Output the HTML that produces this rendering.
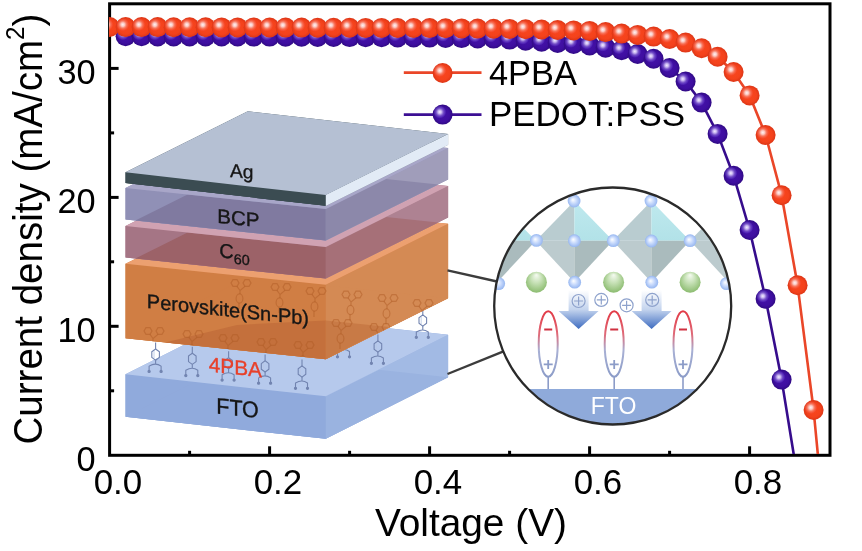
<!DOCTYPE html><html><head><meta charset="utf-8"><style>html,body{margin:0;padding:0;background:#fff;}svg{display:block;}text{font-family:"Liberation Sans",Arial,sans-serif;}</style></head><body>
<svg width="862" height="551" viewBox="0 0 862 551">
<defs>
<radialGradient id="go" cx="0.5" cy="0.5" r="0.5">
 <stop offset="0" stop-color="#f8461e"/><stop offset="0.7" stop-color="#f4421c"/><stop offset="1" stop-color="#dc3616"/>
</radialGradient>
<radialGradient id="ho" cx="0.5" cy="0.5" r="0.5">
 <stop offset="0" stop-color="#fff4f4" stop-opacity="1"/><stop offset="0.3" stop-color="#fcd0cc" stop-opacity="0.92"/><stop offset="0.62" stop-color="#f8907e" stop-opacity="0.55"/><stop offset="1" stop-color="#f66" stop-opacity="0"/>
</radialGradient>
<radialGradient id="gp" cx="0.5" cy="0.5" r="0.5">
 <stop offset="0" stop-color="#4412a8"/><stop offset="0.7" stop-color="#3e0ea0"/><stop offset="1" stop-color="#300a84"/>
</radialGradient>
<radialGradient id="hp" cx="0.5" cy="0.5" r="0.5">
 <stop offset="0" stop-color="#f6f0ff" stop-opacity="1"/><stop offset="0.3" stop-color="#d0c0f6" stop-opacity="0.9"/><stop offset="0.62" stop-color="#9274dc" stop-opacity="0.55"/><stop offset="1" stop-color="#86f" stop-opacity="0"/>
</radialGradient>
<g id="pba" fill="none" stroke="#7284b0" stroke-width="1.1" stroke-linejoin="round"><path d="M0,-5.6L3.8,-2.8L3.8,2.8L0,5.6L-3.8,2.8L-3.8,-2.8Z"/><path d="M0,-5.6V-12M0,5.6V9M-6.5,16.5V11.5Q0,7.5 5.5,11.5V16.5" /><circle cx="-6.5" cy="16.8" r="1.1" fill="#7284b0"/><circle cx="5.5" cy="16.8" r="1.1" fill="#7284b0"/><path d="M-1.6,-3.5L-1.6,3.5" stroke="#b8c6e4" stroke-width="0.8"/></g>
<g id="tpa" fill="none" stroke="#b05c26" stroke-width="1.15" stroke-opacity="0.5"><path d="M-10,0L-8,-3.4L-4,-3.4L-2,0L-4,3.4L-8,3.4Z"/><path d="M2,0L4,-3.4L8,-3.4L10,0L8,3.4L4,3.4Z"/><path d="M-4,3.4L-1,7.5M4,3.4L-1,7.5V11"/><ellipse cx="-1.5" cy="15.5" rx="3.4" ry="4.6"/><path d="M-2,20V26"/></g>
<g id="mo"><circle r="10" fill="url(#go)"/><circle cx="-2.8" cy="-2.5" r="6.5" fill="url(#ho)"/></g>
<g id="mp"><circle r="10" fill="url(#gp)"/><circle cx="-2.8" cy="-2.6" r="6.5" fill="url(#hp)"/></g>
<radialGradient id="gb" cx="0.5" cy="0.5" r="0.5" fx="0.4" fy="0.4">
 <stop offset="0" stop-color="#ffffff"/><stop offset="0.5" stop-color="#c8dafc"/><stop offset="1" stop-color="#96b6f0"/>
</radialGradient>
<radialGradient id="gg" cx="0.5" cy="0.45" r="0.55" fx="0.5" fy="0.15">
 <stop offset="0" stop-color="#f6fbf2"/><stop offset="0.45" stop-color="#c8e2b8"/><stop offset="1" stop-color="#8cbc70"/>
</radialGradient>
<linearGradient id="gcy" x1="0" y1="0" x2="0" y2="1">
 <stop offset="0" stop-color="#bfe9ee"/><stop offset="1" stop-color="#b2e2e8"/>
</linearGradient>
<linearGradient id="garr" x1="0" y1="0" x2="0" y2="1">
 <stop offset="0" stop-color="#ffffff"/><stop offset="0.5" stop-color="#c4d4ee"/><stop offset="1" stop-color="#3e6cc0"/>
</linearGradient>
<linearGradient id="gell" x1="0" y1="0" x2="0" y2="1">
 <stop offset="0" stop-color="#e23a46"/><stop offset="0.35" stop-color="#e06a78"/><stop offset="0.6" stop-color="#a8b0d4"/><stop offset="1" stop-color="#8c9cc8"/>
</linearGradient>
<clipPath id="pvclip"><polygon points="125.5,263.3 247.8,202.3 448.1,223.3 448.1,298.3 325.8,359.3 125.5,338.3"/></clipPath>
<clipPath id="plotclip"><rect x="109" y="5" width="720" height="449"/></clipPath>
<clipPath id="circclip"><circle cx="612.7" cy="306" r="118"/></clipPath>
</defs>
<rect width="862" height="551" fill="#fff"/>
<polygon points="125.5,374.3 247.8,312.8 448.1,334.8 448.1,377.3 325.8,438.8 125.5,416.8" fill="#90aadc" />
<polygon points="125.5,374.3 325.8,396.3 325.8,438.8 125.5,416.8" fill="#90aadc" />
<polygon points="325.8,396.3 448.1,334.8 448.1,377.3 325.8,438.8" fill="#a2bae4" />
<polygon points="125.5,416.8 194.9,381.9 325.8,396.3 325.8,438.8 325.8,438.8" fill="#90aadc" />
<polygon points="325.8,438.8 325.8,396.3 378.7,369.7 448.1,377.3 325.8,438.8" fill="#9ab3e0" />
<polygon points="125.5,374.3 247.8,312.8 448.1,334.8 325.8,396.3" fill="#b6c9ec" />
<use href="#pba" x="155.6" y="354.6"/>
<use href="#pba" x="192.3" y="358.8"/>
<use href="#pba" x="228.6" y="363.3"/>
<use href="#pba" x="265.1" y="366.4"/>
<use href="#pba" x="302.0" y="371.5"/>
<use href="#pba" x="344.0" y="340.0"/>
<use href="#pba" x="377.9" y="346.5"/>
<use href="#pba" x="422.8" y="320.5"/>
<polygon points="125.5,263.8 247.8,202.8 448.1,223.8 448.1,298.3 325.8,359.3 125.5,338.3" fill="#d07e44" />
<polygon points="125.5,263.8 325.8,284.8 325.8,359.3 125.5,338.3" fill="#d07e44" />
<polygon points="325.8,284.8 448.1,223.8 448.1,298.3 325.8,359.3" fill="#d48a54" />
<polygon points="125.5,338.3 247.8,277.3 325.8,285.5 325.8,359.3 325.8,359.3" fill="#d07e44" />
<polygon points="325.8,359.3 325.8,285.5 448.1,298.3 325.8,359.3" fill="#d48a54" />
<polygon points="125.5,263.8 247.8,202.8 448.1,223.8 325.8,284.8" fill="#eca070" />
<polygon points="165.0,342.4 237.0,325.0 325.8,320.4 325.8,359.3" fill="#c4703c" />
<polygon points="325.8,320.4 389.4,327.1 325.8,359.3" fill="#c87a46" />
<polygon points="125.5,226.0 247.8,165.0 448.1,186.0 448.1,217.5 325.8,278.5 125.5,257.5" fill="#a57585" />
<polygon points="125.5,226.0 325.8,247.0 325.8,278.5 125.5,257.5" fill="#a57585" />
<polygon points="325.8,247.0 448.1,186.0 448.1,217.5 325.8,278.5" fill="#ae8292" />
<polygon points="135.4,258.5 187.6,232.5 325.8,247.0 325.8,278.5" fill="#9c6268" />
<polygon points="325.8,278.5 325.8,247.0 386.0,217.0 438.2,222.5" fill="#a67078" />
<polygon points="125.5,226.0 247.8,165.0 448.1,186.0 325.8,247.0" fill="#d0a2b2" />
<polygon points="125.5,188.0 247.8,127.0 448.1,148.0 448.1,179.5 325.8,240.5 125.5,219.5" fill="#9090b6" />
<polygon points="125.5,188.0 325.8,209.0 325.8,240.5 125.5,219.5" fill="#9090b6" />
<polygon points="325.8,209.0 448.1,148.0 448.1,179.5 325.8,240.5" fill="#a09dba" />
<polygon points="135.4,220.5 187.6,194.5 325.8,209.0 325.8,240.5" fill="#807aa0" />
<polygon points="325.8,240.5 325.8,209.0 386.0,179.0 438.2,184.5" fill="#8c88aa" />
<polygon points="125.5,188.0 247.8,127.0 448.1,148.0 325.8,209.0" fill="#a8a6c8" />
<polygon points="125.5,172.3 247.8,111.3 448.1,134.1 448.1,144.8 325.8,205.8 125.5,183.0" fill="#3b4c52" />
<polygon points="125.5,172.3 325.8,195.1 325.8,205.8 125.5,183.0" fill="#3b4c52" />
<polygon points="325.8,195.1 448.1,134.1 448.1,144.8 325.8,205.8" fill="#e2ebf6" />
<polygon points="125.5,183.0 143.0,174.3 325.8,195.1 325.8,205.8 325.8,205.8" fill="#3b4c52" />
<polygon points="325.8,205.8 325.8,195.1 430.6,142.8 448.1,144.8 325.8,205.8" fill="#e2ebf6" />
<polygon points="125.5,172.3 247.8,111.3 448.1,134.1 325.8,195.1" fill="#b5c0d3" />
<g clip-path="url(#pvclip)">
<use href="#tpa" x="241.0" y="283.0"/>
<use href="#tpa" x="281.0" y="287.0"/>
<use href="#tpa" x="316.0" y="291.0"/>
<use href="#tpa" x="352.0" y="294.5"/>
<use href="#tpa" x="388.0" y="298.0"/>
<use href="#tpa" x="423.0" y="303.0"/>
<use href="#tpa" x="154.0" y="331.0"/>
<use href="#tpa" x="193.0" y="334.0"/>
<use href="#tpa" x="229.0" y="338.0"/>
<use href="#tpa" x="267.0" y="342.0"/>
<use href="#tpa" x="304.0" y="345.0"/>
<use href="#tpa" x="342.0" y="323.0"/>
<use href="#tpa" x="380.0" y="327.0"/>
</g>
<text transform="translate(230.0 177.0) skewY(4.50) scale(1.000 1)" font-size="19.2" fill="#161616" stroke="#161616" stroke-width="0.35">Ag</text>
<text transform="translate(217.2 222.8) skewY(6.00) scale(1.030 1)" font-size="20.0" fill="#161616" stroke="#161616" stroke-width="0.35">BCP</text>
<text transform="translate(219.3 257.2) skewY(6.00) scale(1.000 1)" font-size="20.0" fill="#161616" stroke="#161616" stroke-width="0.35">C<tspan font-size="14.4" dy="5.0">60</tspan></text>
<text transform="translate(146.8 308.0) skewY(6.00) scale(1.000 1)" font-size="20.0" fill="#161616" stroke="#161616" stroke-width="0.35">Perovskite(Sn-Pb)</text>
<text transform="translate(208.8 371.5) skewY(6.00) scale(1.000 1)" font-size="20.8" fill="#e8402a" stroke="#e8402a" stroke-width="0.35">4PBA</text>
<text transform="translate(216.3 413.6) skewY(6.00) scale(0.950 1)" font-size="22.6" fill="#161616" stroke="#161616" stroke-width="0.35">FTO</text>
<line x1="447.5" y1="270.3" x2="497" y2="281.5" stroke="#3c3c3c" stroke-width="2.4"/>
<line x1="447.5" y1="374" x2="503.5" y2="351.4" stroke="#3c3c3c" stroke-width="2.4"/>
<circle cx="612.7" cy="306" r="118.5" fill="#fff"/>
<g clip-path="url(#circclip)">
<polygon points="497.2,201.0 458.6,240.7 497.2,240.7" fill="#b9ccd0" />
<polygon points="497.2,201.0 497.2,240.7 535.8,240.7" fill="url(#gcy)" />
<polygon points="458.6,240.7 497.2,240.7 497.2,282.2" fill="#bccbce" />
<polygon points="497.2,240.7 535.8,240.7 497.2,282.2" fill="#aabbbd" />
<polygon points="574.4,201.0 535.8,240.7 574.4,240.7" fill="#b9ccd0" />
<polygon points="574.4,201.0 574.4,240.7 613.0,240.7" fill="url(#gcy)" />
<polygon points="535.8,240.7 574.4,240.7 574.4,282.2" fill="#bccbce" />
<polygon points="574.4,240.7 613.0,240.7 574.4,282.2" fill="#aabbbd" />
<polygon points="651.4,201.0 612.8,240.7 651.4,240.7" fill="#b9ccd0" />
<polygon points="651.4,201.0 651.4,240.7 690.0,240.7" fill="url(#gcy)" />
<polygon points="612.8,240.7 651.4,240.7 651.4,282.2" fill="#bccbce" />
<polygon points="651.4,240.7 690.0,240.7 651.4,282.2" fill="#aabbbd" />
<polygon points="728.6,201.0 690.0,240.7 728.6,240.7" fill="#b9ccd0" />
<polygon points="728.6,201.0 728.6,240.7 767.2,240.7" fill="url(#gcy)" />
<polygon points="690.0,240.7 728.6,240.7 728.6,282.2" fill="#bccbce" />
<polygon points="728.6,240.7 767.2,240.7 728.6,282.2" fill="#aabbbd" />
<circle cx="574.1" cy="201.0" r="6.4" fill="url(#gb)"/>
<circle cx="651.0" cy="201.0" r="6.4" fill="url(#gb)"/>
<circle cx="536.4" cy="240.4" r="6.4" fill="url(#gb)"/>
<circle cx="574.4" cy="240.7" r="6.4" fill="url(#gb)"/>
<circle cx="613.3" cy="240.7" r="6.4" fill="url(#gb)"/>
<circle cx="651.4" cy="241.0" r="6.4" fill="url(#gb)"/>
<circle cx="690.1" cy="240.7" r="6.4" fill="url(#gb)"/>
<circle cx="497.5" cy="240.7" r="6.4" fill="url(#gb)"/>
<circle cx="728.5" cy="240.7" r="6.4" fill="url(#gb)"/>
<circle cx="574.7" cy="282.2" r="6.4" fill="url(#gb)"/>
<circle cx="651.8" cy="282.2" r="6.4" fill="url(#gb)"/>
<circle cx="498.7" cy="283.6" r="6.4" fill="url(#gb)"/>
<circle cx="726.4" cy="283.6" r="6.4" fill="url(#gb)"/>
<circle cx="536.4" cy="282.2" r="10.5" fill="url(#gg)"/>
<circle cx="613.6" cy="282.2" r="10.5" fill="url(#gg)"/>
<circle cx="690.1" cy="282.2" r="10.5" fill="url(#gg)"/>
<polygon points="568.6,290 588.6,290 588.6,311 598.6,311 578.6,329 558.6,311 568.6,311 568.6,290" fill="url(#garr)"/>
<polygon points="641.6,290 661.6,290 661.6,311 671.6,311 651.6,329 631.6,311 641.6,311 641.6,290" fill="url(#garr)"/>
<circle cx="578.6" cy="301.0" r="6.5" fill="none" stroke="#8ea2cc" stroke-width="1.2"/>
<path d="M574.1 301.0h9M578.6 296.5v9" stroke="#8ea2cc" stroke-width="1.2"/>
<circle cx="601.3" cy="299.9" r="6.5" fill="none" stroke="#8ea2cc" stroke-width="1.2"/>
<path d="M596.8 299.9h9M601.3 295.4v9" stroke="#8ea2cc" stroke-width="1.2"/>
<circle cx="626.6" cy="305.3" r="6.5" fill="none" stroke="#8ea2cc" stroke-width="1.2"/>
<path d="M622.1 305.3h9M626.6 300.8v9" stroke="#8ea2cc" stroke-width="1.2"/>
<circle cx="652.2" cy="299.9" r="6.5" fill="none" stroke="#8ea2cc" stroke-width="1.2"/>
<path d="M647.7 299.9h9M652.2 295.4v9" stroke="#8ea2cc" stroke-width="1.2"/>
<ellipse cx="548.2" cy="344" rx="9.5" ry="32.7" fill="none" stroke="url(#gell)" stroke-width="2"/>
<line x1="548.2" y1="376.7" x2="548.2" y2="390" stroke="#8c9cc8" stroke-width="1.6"/>
<path d="M544.2 329.6h8" stroke="#d03040" stroke-width="2"/>
<path d="M543.7 364.4h9M548.2 359.9v9" stroke="#8c9cc8" stroke-width="1.8"/>
<ellipse cx="614.2" cy="344" rx="9.5" ry="32.7" fill="none" stroke="url(#gell)" stroke-width="2"/>
<line x1="614.2" y1="376.7" x2="614.2" y2="390" stroke="#8c9cc8" stroke-width="1.6"/>
<path d="M610.2 329.6h8" stroke="#d03040" stroke-width="2"/>
<path d="M609.7 364.4h9M614.2 359.9v9" stroke="#8c9cc8" stroke-width="1.8"/>
<ellipse cx="683.0" cy="344" rx="9.5" ry="32.7" fill="none" stroke="url(#gell)" stroke-width="2"/>
<line x1="683.0" y1="376.7" x2="683.0" y2="390" stroke="#8c9cc8" stroke-width="1.6"/>
<path d="M679.0 329.6h8" stroke="#d03040" stroke-width="2"/>
<path d="M678.5 364.4h9M683.0 359.9v9" stroke="#8c9cc8" stroke-width="1.8"/>
<rect x="480" y="389" width="270" height="50" fill="#8faada"/>
</g>
<text x="613.5" y="413.5" font-size="23" fill="#fff" text-anchor="middle">FTO</text>
<circle cx="612.7" cy="306" r="118.5" fill="none" stroke="#2a2a2a" stroke-width="2.3"/>
<g stroke="#000" stroke-width="3" fill="none">
<rect x="109.6" y="3.8" width="720.4" height="451.5"/>
<line x1="109.6" y1="326.3" x2="118.6" y2="326.3"/>
<line x1="109.6" y1="197.4" x2="118.6" y2="197.4"/>
<line x1="109.6" y1="68.4" x2="118.6" y2="68.4"/>
<line x1="109.6" y1="390.8" x2="114.1" y2="390.8"/>
<line x1="109.6" y1="261.8" x2="114.1" y2="261.8"/>
<line x1="109.6" y1="132.9" x2="114.1" y2="132.9"/>
<line x1="269.6" y1="455.3" x2="269.6" y2="446.3"/>
<line x1="429.6" y1="455.3" x2="429.6" y2="446.3"/>
<line x1="589.6" y1="455.3" x2="589.6" y2="446.3"/>
<line x1="749.6" y1="455.3" x2="749.6" y2="446.3"/>
<line x1="189.6" y1="455.3" x2="189.6" y2="450.8"/>
<line x1="349.6" y1="455.3" x2="349.6" y2="450.8"/>
<line x1="509.6" y1="455.3" x2="509.6" y2="450.8"/>
<line x1="669.6" y1="455.3" x2="669.6" y2="450.8"/>
</g>
<g clip-path="url(#plotclip)">
<polyline points="125.6,36.3 141.6,36.3 157.6,36.4 173.6,36.4 189.6,36.4 205.6,36.5 221.6,36.5 237.6,36.5 253.6,36.6 269.6,36.6 285.6,36.7 301.6,36.8 317.6,36.9 333.6,37.0 349.6,37.1 365.6,37.2 381.6,37.3 397.6,37.4 413.6,37.5 429.6,37.6 445.6,37.9 461.6,38.1 477.6,38.4 493.6,38.6 509.6,39.6 525.6,40.7 541.6,41.8 557.6,42.9 573.6,44.0 589.6,45.5 605.6,47.7 621.6,50.3 637.6,54.0 653.6,58.7 669.6,68.0 685.6,81.5 701.6,102.6 717.6,133.9 733.6,175.7 749.6,230.0 765.6,298.7 781.6,379.6 794.0,456.0" fill="none" stroke="#360c8c" stroke-width="2.6" stroke-linejoin="round"/>
<use href="#mp" x="125.6" y="36.3"/>
<use href="#mp" x="141.6" y="36.3"/>
<use href="#mp" x="157.6" y="36.4"/>
<use href="#mp" x="173.6" y="36.4"/>
<use href="#mp" x="189.6" y="36.4"/>
<use href="#mp" x="205.6" y="36.5"/>
<use href="#mp" x="221.6" y="36.5"/>
<use href="#mp" x="237.6" y="36.5"/>
<use href="#mp" x="253.6" y="36.6"/>
<use href="#mp" x="269.6" y="36.6"/>
<use href="#mp" x="285.6" y="36.7"/>
<use href="#mp" x="301.6" y="36.8"/>
<use href="#mp" x="317.6" y="36.9"/>
<use href="#mp" x="333.6" y="37.0"/>
<use href="#mp" x="349.6" y="37.1"/>
<use href="#mp" x="365.6" y="37.2"/>
<use href="#mp" x="381.6" y="37.3"/>
<use href="#mp" x="397.6" y="37.4"/>
<use href="#mp" x="413.6" y="37.5"/>
<use href="#mp" x="429.6" y="37.6"/>
<use href="#mp" x="445.6" y="37.9"/>
<use href="#mp" x="461.6" y="38.1"/>
<use href="#mp" x="477.6" y="38.4"/>
<use href="#mp" x="493.6" y="38.6"/>
<use href="#mp" x="509.6" y="39.6"/>
<use href="#mp" x="525.6" y="40.7"/>
<use href="#mp" x="541.6" y="41.8"/>
<use href="#mp" x="557.6" y="42.9"/>
<use href="#mp" x="573.6" y="44.0"/>
<use href="#mp" x="589.6" y="45.5"/>
<use href="#mp" x="605.6" y="47.7"/>
<use href="#mp" x="621.6" y="50.3"/>
<use href="#mp" x="637.6" y="54.0"/>
<use href="#mp" x="653.6" y="58.7"/>
<use href="#mp" x="669.6" y="68.0"/>
<use href="#mp" x="685.6" y="81.5"/>
<use href="#mp" x="701.6" y="102.6"/>
<use href="#mp" x="717.6" y="133.9"/>
<use href="#mp" x="733.6" y="175.7"/>
<use href="#mp" x="749.6" y="230.0"/>
<use href="#mp" x="765.6" y="298.7"/>
<use href="#mp" x="781.6" y="379.6"/>
<polyline points="109.6,27.0 125.6,27.1 141.6,27.1 157.6,27.1 173.6,27.2 189.6,27.2 205.6,27.3 221.6,27.4 237.6,27.4 253.6,27.4 269.6,27.5 285.6,27.6 301.6,27.6 317.6,27.7 333.6,27.7 349.6,27.8 365.6,27.9 381.6,27.9 397.6,28.0 413.6,28.0 429.6,28.1 445.6,28.3 461.6,28.4 477.6,28.6 493.6,28.7 509.6,28.9 525.6,29.2 541.6,29.5 557.6,30.0 573.6,30.4 589.6,30.9 605.6,32.1 621.6,33.6 637.6,34.9 653.6,36.6 669.6,39.0 685.6,42.6 701.6,48.2 717.6,56.8 733.6,72.0 749.6,95.4 765.6,135.0 781.6,195.2 797.6,285.3 813.6,410.0 818.0,456.0" fill="none" stroke="#ea4628" stroke-width="2.6" stroke-linejoin="round"/>
<use href="#mo" x="109.6" y="27.0"/>
<use href="#mo" x="125.6" y="27.1"/>
<use href="#mo" x="141.6" y="27.1"/>
<use href="#mo" x="157.6" y="27.1"/>
<use href="#mo" x="173.6" y="27.2"/>
<use href="#mo" x="189.6" y="27.2"/>
<use href="#mo" x="205.6" y="27.3"/>
<use href="#mo" x="221.6" y="27.4"/>
<use href="#mo" x="237.6" y="27.4"/>
<use href="#mo" x="253.6" y="27.4"/>
<use href="#mo" x="269.6" y="27.5"/>
<use href="#mo" x="285.6" y="27.6"/>
<use href="#mo" x="301.6" y="27.6"/>
<use href="#mo" x="317.6" y="27.7"/>
<use href="#mo" x="333.6" y="27.7"/>
<use href="#mo" x="349.6" y="27.8"/>
<use href="#mo" x="365.6" y="27.9"/>
<use href="#mo" x="381.6" y="27.9"/>
<use href="#mo" x="397.6" y="28.0"/>
<use href="#mo" x="413.6" y="28.0"/>
<use href="#mo" x="429.6" y="28.1"/>
<use href="#mo" x="445.6" y="28.3"/>
<use href="#mo" x="461.6" y="28.4"/>
<use href="#mo" x="477.6" y="28.6"/>
<use href="#mo" x="493.6" y="28.7"/>
<use href="#mo" x="509.6" y="28.9"/>
<use href="#mo" x="525.6" y="29.2"/>
<use href="#mo" x="541.6" y="29.5"/>
<use href="#mo" x="557.6" y="30.0"/>
<use href="#mo" x="573.6" y="30.4"/>
<use href="#mo" x="589.6" y="30.9"/>
<use href="#mo" x="605.6" y="32.1"/>
<use href="#mo" x="621.6" y="33.6"/>
<use href="#mo" x="637.6" y="34.9"/>
<use href="#mo" x="653.6" y="36.6"/>
<use href="#mo" x="669.6" y="39.0"/>
<use href="#mo" x="685.6" y="42.6"/>
<use href="#mo" x="701.6" y="48.2"/>
<use href="#mo" x="717.6" y="56.8"/>
<use href="#mo" x="733.6" y="72.0"/>
<use href="#mo" x="749.6" y="95.4"/>
<use href="#mo" x="765.6" y="135.0"/>
<use href="#mo" x="781.6" y="195.2"/>
<use href="#mo" x="797.6" y="285.3"/>
<use href="#mo" x="813.6" y="410.0"/>
</g>
<line x1="403.8" y1="72.7" x2="481.5" y2="72.7" stroke="#ea4628" stroke-width="2.7"/>
<use href="#mo" x="442.6" y="73"/>
<line x1="403.8" y1="114.6" x2="481.5" y2="114.6" stroke="#3c0f94" stroke-width="2.7"/>
<use href="#mp" x="442.6" y="114.6"/>
<text transform="translate(489.00 84.60) scale(0.965 1)" font-size="35.60" text-anchor="start" >4PBA</text>
<text transform="translate(489.00 125.50) scale(0.982 1)" font-size="35.60" text-anchor="start" >PEDOT:PSS</text>
<text transform="translate(117.90 493.80) scale(0.975 1)" font-size="35.80" text-anchor="middle" >0.0</text>
<text transform="translate(277.90 493.80) scale(0.975 1)" font-size="35.80" text-anchor="middle" >0.2</text>
<text transform="translate(437.90 493.80) scale(0.975 1)" font-size="35.80" text-anchor="middle" >0.4</text>
<text transform="translate(597.90 493.80) scale(0.975 1)" font-size="35.80" text-anchor="middle" >0.6</text>
<text transform="translate(757.90 493.80) scale(0.975 1)" font-size="35.80" text-anchor="middle" >0.8</text>
<text transform="translate(95.60 470.90) scale(0.970 1)" font-size="35.40" text-anchor="end" >0</text>
<text transform="translate(95.60 341.93) scale(0.970 1)" font-size="35.40" text-anchor="end" >10</text>
<text transform="translate(95.60 212.96) scale(0.970 1)" font-size="35.40" text-anchor="end" >20</text>
<text transform="translate(95.60 83.99) scale(0.970 1)" font-size="35.40" text-anchor="end" >30</text>
<text transform="translate(375.00 535.80) scale(1.000 1)" font-size="38.80" text-anchor="start" >Voltage (V)</text>
<text transform="translate(41.50 444.50) rotate(-90) scale(0.940 1)" font-size="41.00">Current density (mA/cm<tspan font-size="25.83" dy="-17.22">2</tspan><tspan dy="17.22">)</tspan></text>
</svg></body></html>
